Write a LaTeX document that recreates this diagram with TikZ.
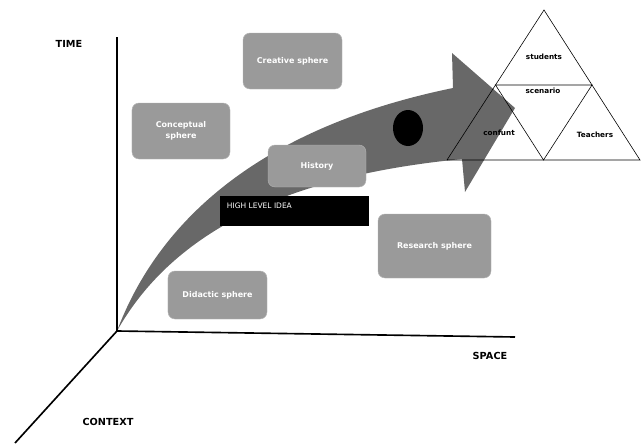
\documentclass[tikz,border=0pt]{standalone}
\usepackage{fontspec}
\setmainfont{DejaVu Sans}
\usepackage{xcolor}
\usepackage{tikz}
\usetikzlibrary{positioning,shapes.geometric}
\definecolor{spheregray}{HTML}{9A9A9A}
\definecolor{arrowgray}{HTML}{686868}

\begin{document}
\begin{tikzpicture}[
x=0.03cm, y=-0.03cm,
sphere/.style={
fill=spheregray,
draw=spheregray!75!white,
rounded corners=6pt,
text=white,
align=center,
font=\fontsize{6.8}{9}\selectfont\bfseries
},
axis/.style={line width=1.4pt},
axislabel/.style={font=\fontsize{8.3}{10}\selectfont\bfseries},
trilabel/.style={font=\fontsize{6.2}{7}\selectfont\bfseries},
tri/.style={line width=0.5pt}
]
\useasboundingbox (0,0) rectangle (642,445);

\coordinate (origin) at (117,331);
\coordinate (timeend) at (117,37);
\coordinate (spaceend) at (515,337);
\coordinate (contextend) at (15,443);

% big curved arrow
\fill[arrowgray] (origin)
.. controls (158,222) and (258,128) .. (453,88)
-- (452,53) -- (515,108) -- (465,192) -- (462,159)
.. controls (330,172) and (185,210) .. (origin)
-- cycle;

\draw[axis] (timeend) -- (origin) -- (spaceend);
\draw[axis] (origin) -- (contextend);

\node[axislabel] (time) at (69,44) {TIME};
\node[axislabel] (space) at (490,356) {SPACE};
\node[axislabel] (context) at (108,422) {CONTEXT};

\node[sphere, minimum width=2.97cm, minimum height=1.68cm] (creative) at (292.5,61) {Creative sphere};
\node[sphere, minimum width=2.94cm, minimum height=1.68cm] (conceptual) at (181,131) {Conceptual\\sphere};
\node[sphere, minimum width=2.94cm, minimum height=1.26cm] (history) at (317,166) {History};
\node[sphere, minimum width=2.97cm, minimum height=1.44cm] (didactic) at (217.5,295) {Didactic sphere};
\node[sphere, minimum width=3.39cm, minimum height=1.92cm] (research) at (434.5,246) {Research sphere};

\node[fill=black, minimum width=4.47cm, minimum height=0.9cm] (idea) at (294.5,211) {};
\node[anchor=west, text=white, inner sep=0pt, font=\fontsize{6.4}{8}\selectfont] (idealabel)
at ([shift={(7,10)}]idea.north west) {HIGH LEVEL IDEA};

\node[ellipse, fill=black, minimum width=0.9cm, minimum height=1.08cm, inner sep=0pt] (dot) at (408,128) {};

% triangle
\coordinate (apex) at (544,10);
\coordinate (left) at (447,160);
\coordinate (right) at (640,160);
\coordinate (midleft) at (495.5,85);
\coordinate (midright) at (592,85);
\coordinate (midbase) at (543.5,160);
\draw[tri] (apex) -- (left) -- (right) -- cycle;
\draw[tri] (midleft) -- (midright) -- (midbase) -- cycle;

\node[trilabel] (students) at (544,57) {students};
\node[trilabel] (scenario) at (543,91) {scenario};
\node[trilabel] (content) at (499,133) {confunt};
\node[trilabel] (teachers) at (595,135) {Teachers};

\end{tikzpicture}
\end{document}
